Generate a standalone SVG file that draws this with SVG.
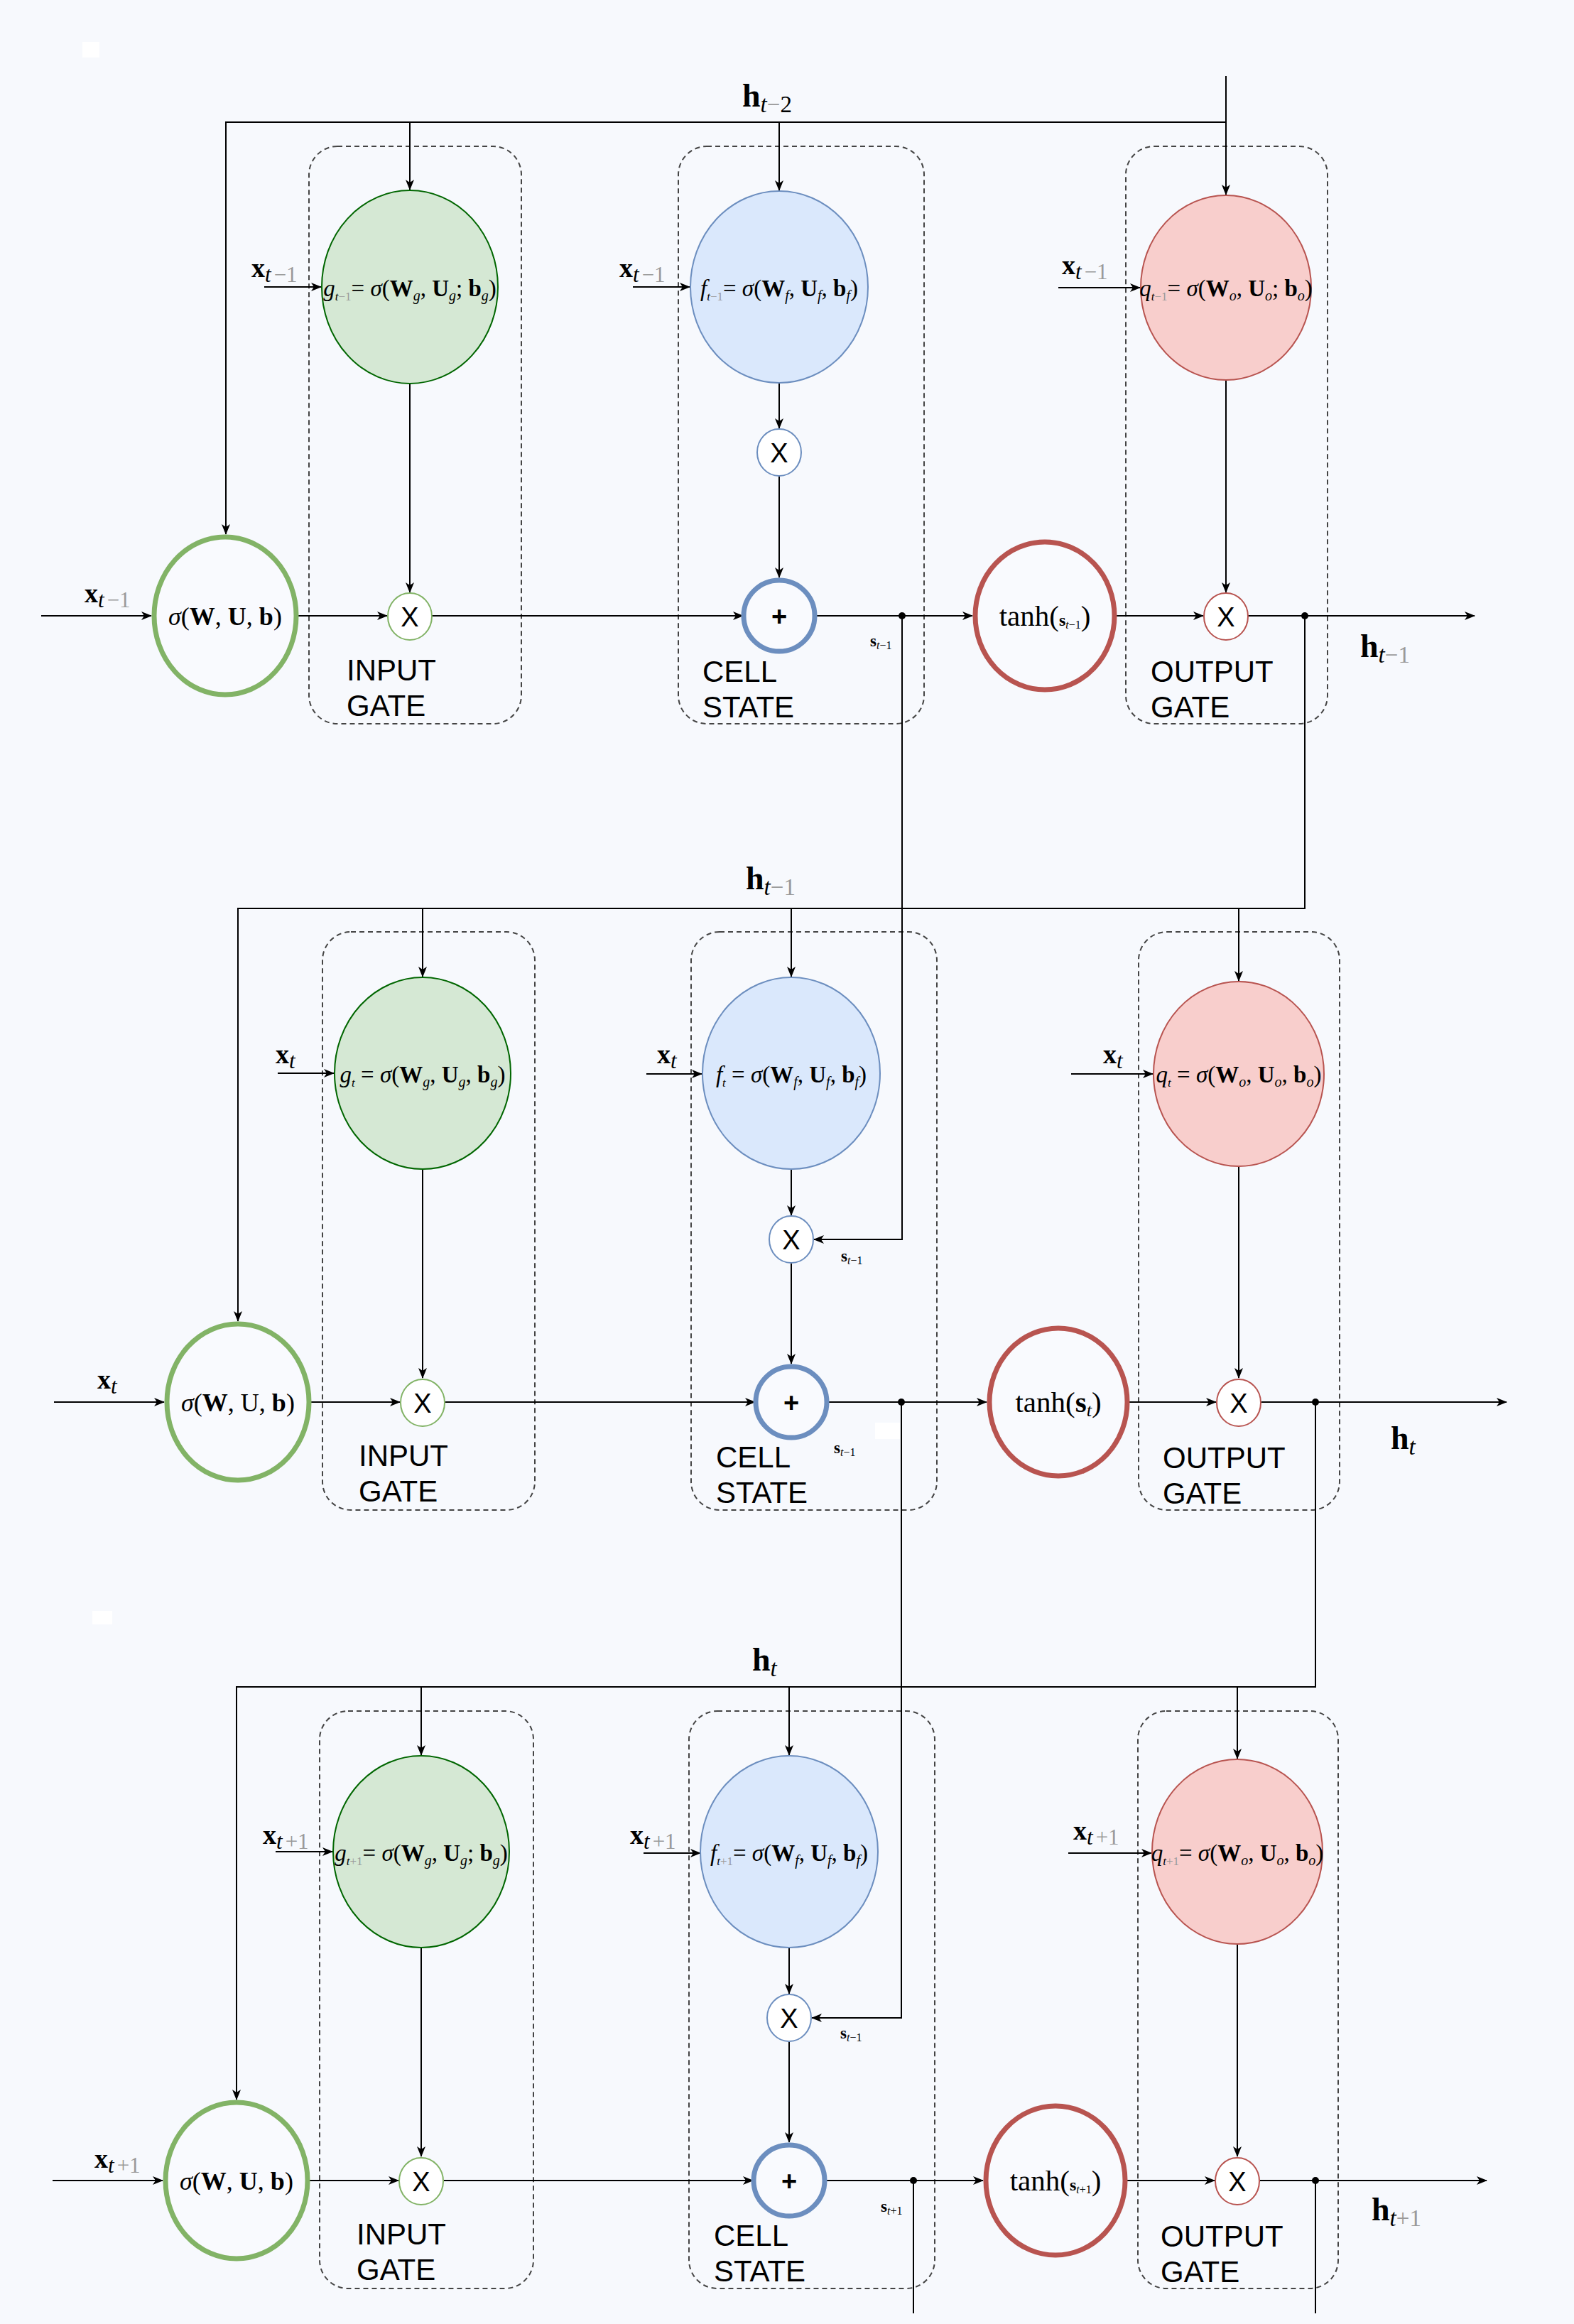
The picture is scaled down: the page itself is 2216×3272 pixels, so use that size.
<svg xmlns="http://www.w3.org/2000/svg" width="2216" height="3272" viewBox="0 0 2216 3272">
<defs>
<marker id="arr" markerWidth="15" markerHeight="12" refX="14" refY="6" orient="auto" markerUnits="userSpaceOnUse">
<path d="M0,0 L15,6 L0,12 L4,6 z" fill="#000"/>
</marker>
<style>
.bg{fill:#f7f9fd}
.box{fill:none;stroke:#444;stroke-width:2;stroke-dasharray:7 5}
.cn{fill:none;stroke:#000;stroke-width:2}
.ca{fill:none;stroke:#000;stroke-width:2;marker-end:url(#arr)}
.dot{fill:#000}
.g{fill:#d5e8d4;stroke:#006600;stroke-width:2}
.b{fill:#dae8fc;stroke:#6c8ebf;stroke-width:2}
.r{fill:#f8cecc;stroke:#b85450;stroke-width:2}
.big{fill:#f9fafe;stroke:#82b366;stroke-width:7}
.plus{fill:#f9fafe;stroke:#6c8ebf;stroke-width:7}
.tanh{fill:#f9fafe;stroke:#b85450;stroke-width:7}
.xg{fill:#fff;stroke:#82b366;stroke-width:2}
.xb{fill:#fff;stroke:#6c8ebf;stroke-width:2}
.xr{fill:#fff;stroke:#b85450;stroke-width:2}
.lbl{font-family:"Liberation Sans",Arial,sans-serif;font-size:42px;fill:#000}
.op{font-family:"Liberation Sans",Arial,sans-serif;font-size:38px;fill:#000;text-anchor:middle}
.m{font-family:"Liberation Serif","DejaVu Serif",serif;fill:#000}
.f{font-size:33px;text-anchor:middle}
.sg{font-family:"Liberation Serif","DejaVu Serif",serif;font-size:36px;text-anchor:middle;fill:#000}
.th{font-size:41px;text-anchor:middle}
.xl{font-size:38px}
.hl{font-size:46px}
.sl{font-size:23px}
.gr{fill:#9a9a9a}
.B{font-weight:bold}
.I{font-style:italic}
</style>
</defs>
<rect class="bg" x="0" y="0" width="2216" height="3272"/>
<rect x="116" y="59" width="24" height="22" fill="#ffffff"/>
<rect x="130" y="2268" width="28" height="19" fill="#ffffff"/>
<rect x="1232" y="2003" width="35" height="23" fill="#ffffff"/>

<g id="boxes">
<rect class="box" x="435" y="206" width="299" height="813" rx="40"/>
<rect class="box" x="955" y="206" width="346" height="813" rx="40"/>
<rect class="box" x="1585" y="206" width="284" height="813" rx="40"/>
<rect class="box" x="454" y="1312" width="299" height="814" rx="40"/>
<rect class="box" x="973" y="1312" width="346" height="814" rx="40"/>
<rect class="box" x="1603" y="1312" width="283" height="814" rx="40"/>
<rect class="box" x="450" y="2409" width="301" height="813" rx="40"/>
<rect class="box" x="970" y="2409" width="346" height="813" rx="40"/>
<rect class="box" x="1602" y="2409" width="282" height="813" rx="40"/>
</g>

<g id="connectors">
<!-- row A -->
<path class="ca" d="M1726,107 V274"/>
<path class="ca" d="M1726,172 H318 V752"/>
<path class="ca" d="M577,172 V267"/>
<path class="ca" d="M1097,172 V268"/>
<path class="ca" d="M58,867 H213"/>
<path class="ca" d="M420,867 H545"/>
<path class="ca" d="M608,867 H1046"/>
<path class="ca" d="M1150,867 H1369"/>
<path class="ca" d="M1572,867 H1694"/>
<path class="ca" d="M1757,867 H2076"/>
<path class="ca" d="M577,540 V834"/>
<path class="ca" d="M1097,539 V603"/>
<path class="ca" d="M1097,671 V813"/>
<path class="ca" d="M1726,535 V834"/>
<path class="ca" d="M372,404 H452"/>
<path class="ca" d="M891,404 H971"/>
<path class="ca" d="M1490,405 H1605"/>
<path class="ca" d="M1270,867 V1745 H1146"/>
<path class="ca" d="M1837,867 V1279 H335 V1860"/>
<path class="ca" d="M595,1279 V1375"/>
<path class="ca" d="M1114,1279 V1375"/>
<path class="ca" d="M1744,1279 V1381"/>
<circle class="dot" cx="1270" cy="867" r="5"/>
<circle class="dot" cx="1837" cy="867" r="5"/>
<!-- row B -->
<path class="ca" d="M76,1974 H231"/>
<path class="ca" d="M438,1974 H563"/>
<path class="ca" d="M627,1974 H1063"/>
<path class="ca" d="M1167,1974 H1389"/>
<path class="ca" d="M1590,1974 H1712"/>
<path class="ca" d="M1776,1974 H2121"/>
<path class="ca" d="M595,1647 V1940"/>
<path class="ca" d="M1114,1646 V1711"/>
<path class="ca" d="M1114,1779 V1920"/>
<path class="ca" d="M1744,1642 V1940"/>
<path class="ca" d="M391,1511 H470"/>
<path class="ca" d="M910,1512 H988"/>
<path class="ca" d="M1508,1512 H1623"/>
<path class="ca" d="M1269,1974 V2841 H1143"/>
<path class="ca" d="M1852,1974 V2375 H333 V2956"/>
<path class="ca" d="M593,2375 V2471"/>
<path class="ca" d="M1111,2375 V2471"/>
<path class="ca" d="M1742,2375 V2476"/>
<circle class="dot" cx="1269" cy="1974" r="5"/>
<circle class="dot" cx="1852" cy="1974" r="5"/>
<!-- row C -->
<path class="ca" d="M74,3070 H229"/>
<path class="ca" d="M436,3070 H561"/>
<path class="ca" d="M625,3070 H1060"/>
<path class="ca" d="M1164,3070 H1384"/>
<path class="ca" d="M1587,3070 H1710"/>
<path class="ca" d="M1774,3070 H2093"/>
<path class="ca" d="M593,2743 V3036"/>
<path class="ca" d="M1111,2743 V2807"/>
<path class="ca" d="M1111,2875 V3016"/>
<path class="ca" d="M1742,2738 V3036"/>
<path class="ca" d="M388,2607 H468"/>
<path class="ca" d="M906,2609 H986"/>
<path class="ca" d="M1504,2609 H1621"/>
<path class="cn" d="M1286,3070 V3257"/>
<path class="cn" d="M1852,3070 V3257"/>
<circle class="dot" cx="1286" cy="3070" r="5"/>
<circle class="dot" cx="1852" cy="3070" r="5"/>
</g>

<!-- ============ ROW A ============ -->
<g id="sigmaA"><ellipse class="big" cx="317" cy="867" rx="100" ry="111"/>
<text class="sg" x="317" y="880"><tspan class="I">σ</tspan>(<tspan class="B">W</tspan>, <tspan class="B">U</tspan>, <tspan class="B">b</tspan>)</text></g>
<g id="inputGateA"><ellipse class="g" cx="577" cy="404" rx="124" ry="136"/>
<text class="m f" x="577" y="417"><tspan class="I">g</tspan><tspan dy="6" font-size="17" class="I">t</tspan><tspan font-size="17" class="gr">−1</tspan><tspan dy="-6">= </tspan><tspan class="I">σ</tspan>(<tspan class="B">W</tspan><tspan dy="6" font-size="20" class="I">g</tspan><tspan dy="-6">, </tspan><tspan class="B">U</tspan><tspan dy="6" font-size="20" class="I">g</tspan><tspan dy="-6">; </tspan><tspan class="B">b</tspan><tspan dy="6" font-size="20" class="I">g</tspan><tspan dy="-6">)</tspan></text></g>
<g id="inputXA"><ellipse class="xg" cx="577" cy="868" rx="31" ry="33"/><text class="op" x="577" y="882">X</text></g>
<g id="forgetA"><ellipse class="b" cx="1097" cy="404" rx="125" ry="135"/>
<text class="m f" x="1097" y="417"><tspan class="I">f</tspan><tspan dy="6" font-size="17" class="I">t</tspan><tspan font-size="17" class="gr">−1</tspan><tspan dy="-6">= </tspan><tspan class="I">σ</tspan>(<tspan class="B">W</tspan><tspan dy="6" font-size="20" class="I">f</tspan><tspan dy="-6">, </tspan><tspan class="B">U</tspan><tspan dy="6" font-size="20" class="I">f</tspan><tspan dy="-6">, </tspan><tspan class="B">b</tspan><tspan dy="6" font-size="20" class="I">f</tspan><tspan dy="-6">)</tspan></text></g>
<g id="forgetXA"><ellipse class="xb" cx="1097" cy="637" rx="31" ry="33"/><text class="op" x="1097" y="651">X</text></g>
<g id="plusA"><circle class="plus" cx="1097" cy="867" r="50"/><text class="op" x="1097" y="881" font-weight="bold">+</text></g>
<g id="tanhA"><ellipse class="tanh" cx="1471" cy="867" rx="98" ry="104"/>
<text class="m th" x="1471" y="881">tanh(<tspan class="B" font-size="24">s</tspan><tspan dy="4" font-size="16" class="I">t</tspan><tspan font-size="16">−1</tspan><tspan dy="-4">)</tspan></text></g>
<g id="outputA"><ellipse class="r" cx="1726" cy="405" rx="120" ry="130"/>
<text class="m f" x="1726" y="417"><tspan class="I">q</tspan><tspan dy="6" font-size="17" class="I">t</tspan><tspan font-size="17" class="gr">−1</tspan><tspan dy="-6">= </tspan><tspan class="I">σ</tspan>(<tspan class="B">W</tspan><tspan dy="6" font-size="20" class="I">o</tspan><tspan dy="-6">, </tspan><tspan class="B">U</tspan><tspan dy="6" font-size="20" class="I">o</tspan><tspan dy="-6">; </tspan><tspan class="B">b</tspan><tspan dy="6" font-size="20" class="I">o</tspan><tspan dy="-6">)</tspan></text></g>
<g id="outputXA"><ellipse class="xr" cx="1726" cy="868" rx="31" ry="33"/><text class="op" x="1726" y="882">X</text></g>
<g id="labelsA">
<text class="m hl" x="1045" y="150"><tspan class="B">h</tspan><tspan dy="8" font-size="33" class="I">t</tspan><tspan font-size="33" class="gr">−</tspan><tspan font-size="33">2</tspan></text>
<text class="m xl" x="354" y="390"><tspan class="B">x</tspan><tspan dy="7" font-size="31" class="I">t</tspan><tspan font-size="31" class="gr" dx="4">−1</tspan></text>
<text class="m xl" x="872" y="390"><tspan class="B">x</tspan><tspan dy="7" font-size="31" class="I">t</tspan><tspan font-size="31" class="gr" dx="4">−1</tspan></text>
<text class="m xl" x="1495" y="386"><tspan class="B">x</tspan><tspan dy="7" font-size="31" class="I">t</tspan><tspan font-size="31" class="gr" dx="4">−1</tspan></text>
<text class="m xl" x="119" y="848"><tspan class="B">x</tspan><tspan dy="7" font-size="31" class="I">t</tspan><tspan font-size="31" class="gr" dx="4">−1</tspan></text>
<text class="m sl" x="1225" y="910"><tspan class="B">s</tspan><tspan dy="4" font-size="16" class="I">t</tspan><tspan font-size="16">−1</tspan></text>
<text class="m hl" x="1915" y="925"><tspan class="B">h</tspan><tspan dy="8" font-size="33" class="I">t</tspan><tspan font-size="33" class="gr">−1</tspan></text>
<text class="lbl" x="488" y="958">INPUT</text><text class="lbl" x="488" y="1008">GATE</text>
<text class="lbl" x="989" y="960">CELL</text><text class="lbl" x="989" y="1010">STATE</text>
<text class="lbl" x="1620" y="960">OUTPUT</text><text class="lbl" x="1620" y="1010">GATE</text>
</g>

<!-- ============ ROW B ============ -->
<g id="sigmaB"><ellipse class="big" cx="335" cy="1974" rx="100" ry="110"/>
<text class="sg" x="335" y="1987"><tspan class="I">σ</tspan>(<tspan class="B">W</tspan>, <tspan>U</tspan>, <tspan class="B">b</tspan>)</text></g>
<g id="inputGateB"><ellipse class="g" cx="595" cy="1511" rx="124" ry="135"/>
<text class="m f" x="595" y="1524"><tspan class="I">g</tspan><tspan dy="6" font-size="17" class="I">t</tspan><tspan dy="-6"> = </tspan><tspan class="I">σ</tspan>(<tspan class="B">W</tspan><tspan dy="6" font-size="20" class="I">g</tspan><tspan dy="-6">, </tspan><tspan class="B">U</tspan><tspan dy="6" font-size="20" class="I">g</tspan><tspan dy="-6">, </tspan><tspan class="B">b</tspan><tspan dy="6" font-size="20" class="I">g</tspan><tspan dy="-6">)</tspan></text></g>
<g id="inputXB"><ellipse class="xg" cx="595" cy="1975" rx="31" ry="33"/><text class="op" x="595" y="1989">X</text></g>
<g id="forgetB"><ellipse class="b" cx="1114" cy="1511" rx="125" ry="135"/>
<text class="m f" x="1114" y="1524"><tspan class="I">f</tspan><tspan dy="6" font-size="17" class="I">t</tspan><tspan dy="-6"> = </tspan><tspan class="I">σ</tspan>(<tspan class="B">W</tspan><tspan dy="6" font-size="20" class="I">f</tspan><tspan dy="-6">, </tspan><tspan class="B">U</tspan><tspan dy="6" font-size="20" class="I">f</tspan><tspan dy="-6">, </tspan><tspan class="B">b</tspan><tspan dy="6" font-size="20" class="I">f</tspan><tspan dy="-6">)</tspan></text></g>
<g id="forgetXB"><ellipse class="xb" cx="1114" cy="1745" rx="31" ry="33"/><text class="op" x="1114" y="1759">X</text></g>
<g id="plusB"><circle class="plus" cx="1114" cy="1974" r="50"/><text class="op" x="1114" y="1988" font-weight="bold">+</text></g>
<g id="tanhB"><ellipse class="tanh" cx="1490" cy="1974" rx="97" ry="104"/>
<text class="m th" x="1490" y="1988">tanh(<tspan class="B">s</tspan><tspan dy="6" font-size="26" class="I">t</tspan><tspan dy="-6">)</tspan></text></g>
<g id="outputB"><ellipse class="r" cx="1744" cy="1512" rx="120" ry="130"/>
<text class="m f" x="1744" y="1524"><tspan class="I">q</tspan><tspan dy="6" font-size="17" class="I">t</tspan><tspan dy="-6"> = </tspan><tspan class="I">σ</tspan>(<tspan class="B">W</tspan><tspan dy="6" font-size="20" class="I">o</tspan><tspan dy="-6">, </tspan><tspan class="B">U</tspan><tspan dy="6" font-size="20" class="I">o</tspan><tspan dy="-6">, </tspan><tspan class="B">b</tspan><tspan dy="6" font-size="20" class="I">o</tspan><tspan dy="-6">)</tspan></text></g>
<g id="outputXB"><ellipse class="xr" cx="1744" cy="1975" rx="31" ry="33"/><text class="op" x="1744" y="1989">X</text></g>
<g id="labelsB">
<text class="m hl" x="1050" y="1252"><tspan class="B">h</tspan><tspan dy="8" font-size="33" class="I">t</tspan><tspan font-size="33" class="gr">−1</tspan></text>
<text class="m xl" x="388" y="1497"><tspan class="B">x</tspan><tspan dy="7" font-size="31" class="I">t</tspan></text>
<text class="m xl" x="925" y="1497"><tspan class="B">x</tspan><tspan dy="7" font-size="31" class="I">t</tspan></text>
<text class="m xl" x="1553" y="1497"><tspan class="B">x</tspan><tspan dy="7" font-size="31" class="I">t</tspan></text>
<text class="m xl" x="137" y="1955"><tspan class="B">x</tspan><tspan dy="7" font-size="31" class="I">t</tspan></text>
<text class="m sl" x="1184" y="1776"><tspan class="B">s</tspan><tspan dy="4" font-size="16" class="I">t</tspan><tspan font-size="16">−1</tspan></text>
<text class="m sl" x="1174" y="2046"><tspan class="B">s</tspan><tspan dy="4" font-size="16" class="I">t</tspan><tspan font-size="16">−1</tspan></text>
<text class="m hl" x="1958" y="2040"><tspan class="B">h</tspan><tspan dy="8" font-size="33" class="I">t</tspan></text>
<text class="lbl" x="505" y="2064">INPUT</text><text class="lbl" x="505" y="2114">GATE</text>
<text class="lbl" x="1008" y="2066">CELL</text><text class="lbl" x="1008" y="2116">STATE</text>
<text class="lbl" x="1637" y="2067">OUTPUT</text><text class="lbl" x="1637" y="2117">GATE</text>
</g>

<!-- ============ ROW C ============ -->
<g id="sigmaC"><ellipse class="big" cx="333" cy="3070" rx="100" ry="110"/>
<text class="sg" x="333" y="3083"><tspan class="I">σ</tspan>(<tspan class="B">W</tspan>, <tspan class="B">U</tspan>, <tspan class="B">b</tspan>)</text></g>
<g id="inputGateC"><ellipse class="g" cx="593" cy="2607" rx="124" ry="135"/>
<text class="m f" x="593" y="2620"><tspan class="I">g</tspan><tspan dy="6" font-size="17" class="I">t</tspan><tspan font-size="17" class="gr">+1</tspan><tspan dy="-6">= </tspan><tspan class="I">σ</tspan>(<tspan class="B">W</tspan><tspan dy="6" font-size="20" class="I">g</tspan><tspan dy="-6">, </tspan><tspan class="B">U</tspan><tspan dy="6" font-size="20" class="I">g</tspan><tspan dy="-6">; </tspan><tspan class="B">b</tspan><tspan dy="6" font-size="20" class="I">g</tspan><tspan dy="-6">)</tspan></text></g>
<g id="inputXC"><ellipse class="xg" cx="593" cy="3071" rx="31" ry="33"/><text class="op" x="593" y="3085">X</text></g>
<g id="forgetC"><ellipse class="b" cx="1111" cy="2607" rx="125" ry="135"/>
<text class="m f" x="1111" y="2620"><tspan class="I">f</tspan><tspan dy="6" font-size="17" class="I">t</tspan><tspan font-size="17" class="gr">+1</tspan><tspan dy="-6">= </tspan><tspan class="I">σ</tspan>(<tspan class="B">W</tspan><tspan dy="6" font-size="20" class="I">f</tspan><tspan dy="-6">, </tspan><tspan class="B">U</tspan><tspan dy="6" font-size="20" class="I">f</tspan><tspan dy="-6">, </tspan><tspan class="B">b</tspan><tspan dy="6" font-size="20" class="I">f</tspan><tspan dy="-6">)</tspan></text></g>
<g id="forgetXC"><ellipse class="xb" cx="1111" cy="2841" rx="31" ry="33"/><text class="op" x="1111" y="2855">X</text></g>
<g id="plusC"><circle class="plus" cx="1111" cy="3070" r="50"/><text class="op" x="1111" y="3084" font-weight="bold">+</text></g>
<g id="tanhC"><ellipse class="tanh" cx="1486" cy="3070" rx="98" ry="105"/>
<text class="m th" x="1486" y="3084">tanh(<tspan class="B" font-size="24">s</tspan><tspan dy="4" font-size="16" class="I">t</tspan><tspan font-size="16">+1</tspan><tspan dy="-4">)</tspan></text></g>
<g id="outputC"><ellipse class="r" cx="1742" cy="2607" rx="120" ry="130"/>
<text class="m f" x="1742" y="2620"><tspan class="I">q</tspan><tspan dy="6" font-size="17" class="I">t</tspan><tspan font-size="17" class="gr">+1</tspan><tspan dy="-6">= </tspan><tspan class="I">σ</tspan>(<tspan class="B">W</tspan><tspan dy="6" font-size="20" class="I">o</tspan><tspan dy="-6">, </tspan><tspan class="B">U</tspan><tspan dy="6" font-size="20" class="I">o</tspan><tspan dy="-6">, </tspan><tspan class="B">b</tspan><tspan dy="6" font-size="20" class="I">o</tspan><tspan dy="-6">)</tspan></text></g>
<g id="outputXC"><ellipse class="xr" cx="1742" cy="3071" rx="31" ry="33"/><text class="op" x="1742" y="3085">X</text></g>
<g id="labelsC">
<text class="m hl" x="1059" y="2352"><tspan class="B">h</tspan><tspan dy="8" font-size="33" class="I">t</tspan></text>
<text class="m xl" x="370" y="2596"><tspan class="B">x</tspan><tspan dy="7" font-size="31" class="I">t</tspan><tspan font-size="31" class="gr" dx="4">+1</tspan></text>
<text class="m xl" x="887" y="2596"><tspan class="B">x</tspan><tspan dy="7" font-size="31" class="I">t</tspan><tspan font-size="31" class="gr" dx="4">+1</tspan></text>
<text class="m xl" x="1511" y="2590"><tspan class="B">x</tspan><tspan dy="7" font-size="31" class="I">t</tspan><tspan font-size="31" class="gr" dx="4">+1</tspan></text>
<text class="m xl" x="133" y="3052"><tspan class="B">x</tspan><tspan dy="7" font-size="31" class="I">t</tspan><tspan font-size="31" class="gr" dx="4">+1</tspan></text>
<text class="m sl" x="1183" y="2870"><tspan class="B">s</tspan><tspan dy="4" font-size="16" class="I">t</tspan><tspan font-size="16">−1</tspan></text>
<text class="m sl" x="1240" y="3114"><tspan class="B">s</tspan><tspan dy="4" font-size="16" class="I">t</tspan><tspan font-size="16">+1</tspan></text>
<text class="m hl" x="1931" y="3126"><tspan class="B">h</tspan><tspan dy="8" font-size="33" class="I">t</tspan><tspan font-size="33" class="gr">+1</tspan></text>
<text class="lbl" x="502" y="3160">INPUT</text><text class="lbl" x="502" y="3210">GATE</text>
<text class="lbl" x="1005" y="3162">CELL</text><text class="lbl" x="1005" y="3212">STATE</text>
<text class="lbl" x="1634" y="3163">OUTPUT</text><text class="lbl" x="1634" y="3213">GATE</text>
</g>
</svg>
